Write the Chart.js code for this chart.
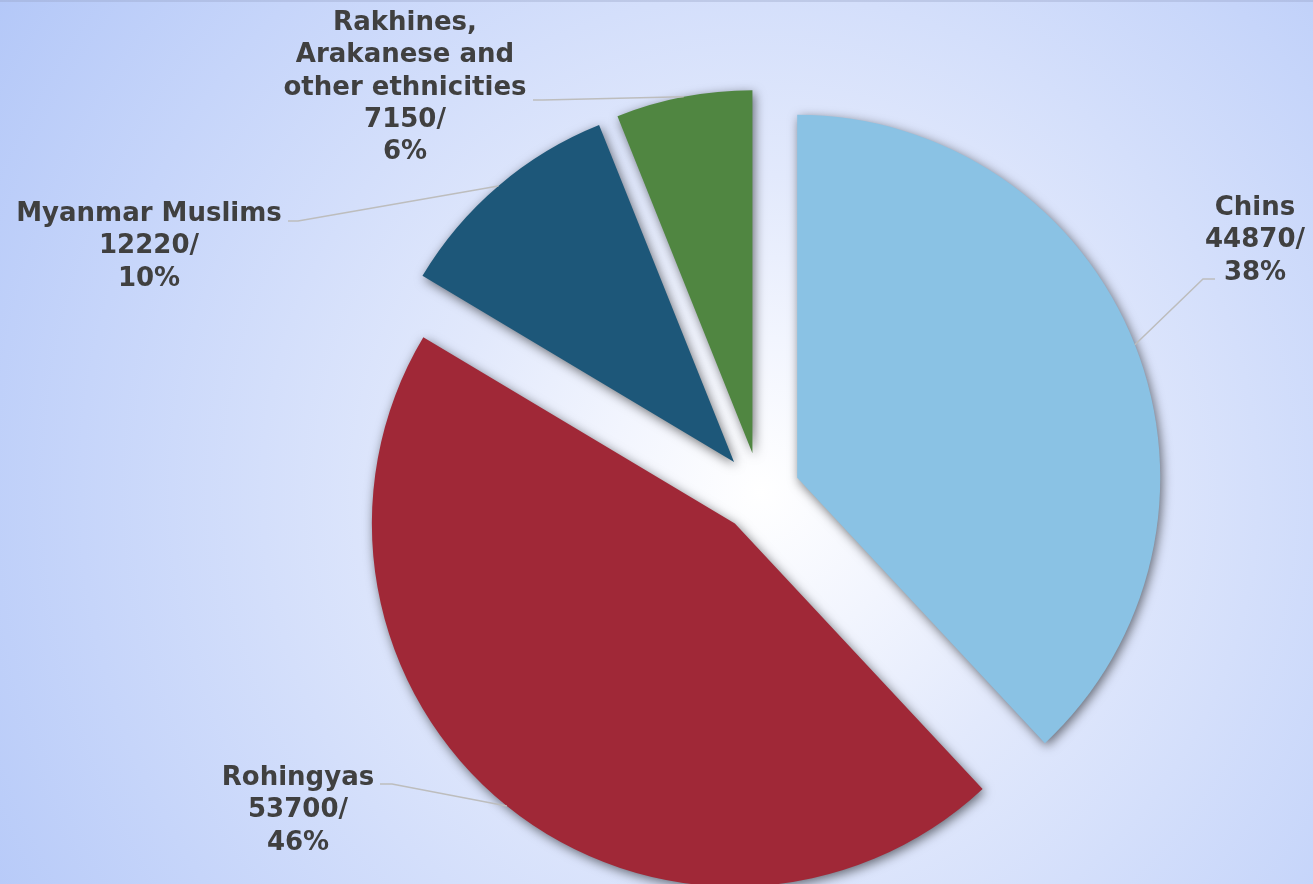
<!DOCTYPE html>
<html><head><meta charset="utf-8">
<script src="https://cdn.jsdelivr.net/npm/chart.js@4.4.1/dist/chart.umd.min.js"></script>
<style>
html,body{margin:0;padding:0;overflow:hidden;background:#c8d6fa}
#wrap{position:relative;width:1313px;height:884px}
</style>
</head><body>
<div id="wrap"><canvas id="c"></canvas></div>
<script>
// ---- data ----
const categories = ['Chins', 'Rohingyas', 'Myanmar Muslims', 'Rakhines, Arakanese and other ethnicities'];
const categoryLines = [['Chins'], ['Rohingyas'], ['Myanmar Muslims'], ['Rakhines,', 'Arakanese and', 'other ethnicities']];
const values = [44870, 53700, 12220, 7150];
const sliceColors = ['#8AC2E4', '#A02837', '#1D5779', '#508641'];

// ---- layout (positions only) ----
const PIE_RADIUS = 363;
const EXPLODE = 40;
const labelLayout = [
  {cx: 1255, base: 215, from: [1215, 279], elbow: [1203, 279]},
  {cx: 298,  base: 785, from: [380, 784],  elbow: [392, 784]},
  {cx: 149,  base: 221, from: [288, 221],  elbow: [298, 221]},
  {cx: 405,  base: 30,  from: [533, 100],  elbow: [543, 100]}
];
const LINE_H = 32.3;

const total = values.reduce((a, b) => a + b, 0);

const bgPlugin = {
  id: 'bg',
  beforeDraw(chart) {
    const ctx = chart.ctx;
    const w = chart.width, h = chart.height;
    ctx.save();
    const g = ctx.createRadialGradient(760, 492, 0, 760, 492, 905);
    g.addColorStop(0, '#ffffff');
    g.addColorStop(0.17, '#f2f5fe');
    g.addColorStop(0.35, '#e2e9fc');
    g.addColorStop(0.75, '#c6d5fa');
    g.addColorStop(1, '#b4c8f8');
    ctx.fillStyle = g;
    ctx.fillRect(0, 0, w, h);
    ctx.fillStyle = 'rgba(150,160,195,0.35)';
    ctx.fillRect(0, 0, w, 2);
    ctx.restore();
  }
};

// keep every exploded slice at the same visual radius and true angle
const radiusFixPlugin = {
  id: 'radiusFix',
  afterDatasetUpdate(chart, args) {
    args.meta.data.forEach(arc => {
      const circ = arc.circumference;
      const off = (arc.options.offset || 0) / 4;
      const ro = off * (1 - Math.sin(Math.min(Math.PI, circ)));
      arc.outerRadius = PIE_RADIUS - ro;
      const d = ro / (2 * Math.PI * PIE_RADIUS);
      arc.startAngle -= d;
      arc.endAngle += d;
    });
  }
};

const shadowPlugin = {
  id: 'shadow',
  beforeDatasetsDraw(chart) {
    const ctx = chart.ctx;
    ctx.save();
    ctx.shadowColor = 'rgba(0,0,0,0.55)';
    ctx.shadowBlur = 11;
    ctx.shadowOffsetX = 2;
    ctx.shadowOffsetY = 3;
  },
  afterDatasetsDraw(chart) {
    chart.ctx.restore();
  }
};

const labelPlugin = {
  id: 'labels',
  afterDatasetsDraw(chart) {
    const ctx = chart.ctx;
    const meta = chart.getDatasetMeta(0);
    ctx.save();
    meta.data.forEach((arc, i) => {
      const L = labelLayout[i];
      const mid = (arc.startAngle + arc.endAngle) / 2;
      const off = (arc.options.offset || 0) / 4;
      const ax = arc.x + Math.cos(mid) * (off + PIE_RADIUS);
      const ay = arc.y + Math.sin(mid) * (off + PIE_RADIUS);
      ctx.strokeStyle = '#bdbdbd';
      ctx.lineWidth = 1.5;
      ctx.beginPath();
      ctx.moveTo(L.from[0], L.from[1]);
      ctx.lineTo(L.elbow[0], L.elbow[1]);
      ctx.lineTo(ax, ay);
      ctx.stroke();

      const pct = Math.round(values[i] / total * 100) + '%';
      const lines = categoryLines[i].concat([values[i] + '/', pct]);
      ctx.fillStyle = '#404040';
      ctx.font = 'bold 26px "DejaVu Sans", Verdana, sans-serif';
      ctx.textAlign = 'center';
      ctx.textBaseline = 'alphabetic';
      lines.forEach((t, k) => ctx.fillText(t, L.cx, L.base + k * LINE_H));
    });
    ctx.restore();
  }
};

new Chart(document.getElementById('c'), {
  type: 'pie',
  data: {
    labels: categories,
    datasets: [{
      data: values,
      backgroundColor: sliceColors,
      borderWidth: 0,
      offset: EXPLODE * 4,
      hoverOffset: EXPLODE * 4,
      clip: false
    }]
  },
  options: {
    responsive: true,
    maintainAspectRatio: false,
    animation: false,
    radius: PIE_RADIUS,
    events: [],
    layout: {padding: {left: 207, right: 0, top: 101, bottom: 0}},
    plugins: {legend: {display: false}, tooltip: {enabled: false}}
  },
  plugins: [bgPlugin, radiusFixPlugin, shadowPlugin, labelPlugin]
});
</script>
</body></html>
